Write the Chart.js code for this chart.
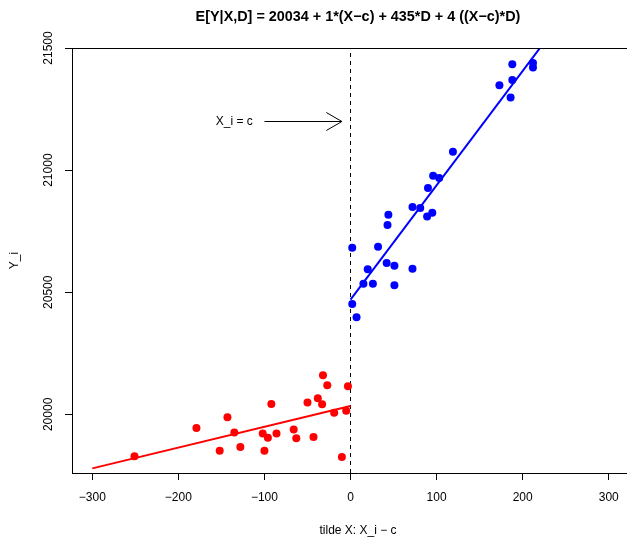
<!DOCTYPE html>
<html>
<head>
<meta charset="utf-8">
<script src="https://cdn.jsdelivr.net/npm/chart.js@4"></script>
<style>
  html, body { margin: 0; padding: 0; background: #fff; overflow: hidden; }
  #wrap { width: 700px; height: 538px; }
</style>
</head>
<body>
<div id="wrap"><canvas id="myChart" width="700" height="538"></canvas></div>
<script>
// left of the cutoff (D = 0)
const leftX = [-251, -179, -143, -152, -135, -128, -92, -102, -96, -100, -86, -66, -63, -50, -43, -38, -33, -32, -27, -19, -10, -5, -3];
const leftY = [19829, 19944, 19988, 19851, 19926, 19866, 20043, 19922, 19904, 19851, 19922, 19938, 19902, 20049, 19907, 20066, 20041, 20160, 20119, 20007, 19825, 20015, 20115];

// right of the cutoff (D = 1)
const rightX = [188, 212, 212, 188, 173, 186, 119, 96, 103, 90, 72, 81, 44, 89, 95, 43, 2, 32, 42, 51, 72, 20, 15, 26, 51, 2, 7];
const rightY = [21433, 21439, 21420, 21369, 21347, 21297, 21075, 20977, 20968, 20927, 20849, 20845, 20817, 20810, 20825, 20775, 20682, 20686, 20620, 20608, 20596, 20594, 20535, 20535, 20529, 20452, 20398];

// fitted lines
const leftFitX = [-300, 0];
const leftFitY = [19779, 20034];
const rightFitX = [0, 225];
const rightFitY = [20470, 21523];

const xTicks = [-300, -200, -100, 0, 100, 200, 300];
const yTicks = [20000, 20500, 21000, 21500];
const xMin = -323.6, xMax = 341;
const yMin = 19760, yMax = 21500;

const cutoff = 0;
const arrowFrom = [-100, 21200];
const arrowTo = [-10, 21200];
const arrowText = 'X_i = c';
const arrowTextX = -135;

const FONT = '"Liberation Sans", Arial, Helvetica, sans-serif';

const toPts = (xs, ys) => xs.map((x, i) => ({ x: x, y: ys[i] }));

// box around the plot region plus the annotation arrow
const rPlot = {
  id: 'rPlot',
  afterDraw(chart) {
    const { ctx, chartArea: a, scales: { x, y } } = chart;
    ctx.save();
    ctx.strokeStyle = '#000';
    ctx.lineWidth = 1;
    const t = Math.round(a.top) + 0.5;
    ctx.beginPath();
    ctx.moveTo(Math.round(a.left), t);
    ctx.lineTo(a.right, t);
    ctx.stroke();

    const x0 = x.getPixelForValue(arrowFrom[0]);
    const x1 = x.getPixelForValue(arrowTo[0]);
    const yy = Math.round(y.getPixelForValue(arrowFrom[1])) + 0.5;
    ctx.beginPath();
    ctx.moveTo(x0, yy);
    ctx.lineTo(x1, yy);
    const len = 18, ang = Math.PI / 6;
    ctx.moveTo(x1 - len * Math.cos(ang), yy - len * Math.sin(ang));
    ctx.lineTo(x1, yy);
    ctx.lineTo(x1 - len * Math.cos(ang), yy + len * Math.sin(ang));
    ctx.stroke();

    ctx.fillStyle = '#000';
    ctx.font = '12px ' + FONT;
    ctx.textAlign = 'center';
    ctx.textBaseline = 'middle';
    ctx.fillText(arrowText, x.getPixelForValue(arrowTextX), yy);
    ctx.restore();
  }
};

new Chart(document.getElementById('myChart').getContext('2d'), {
  type: 'scatter',
  data: {
    datasets: [
      {
        data: toPts(leftX, leftY),
        backgroundColor: '#ff0000',
        borderColor: '#ff0000',
        pointRadius: 4,
        pointBorderWidth: 0
      },
      {
        data: toPts(rightX, rightY),
        backgroundColor: '#0000ff',
        borderColor: '#0000ff',
        pointRadius: 4,
        pointBorderWidth: 0
      },
      {
        data: toPts(leftFitX, leftFitY),
        showLine: true,
        borderColor: '#ff0000',
        borderWidth: 2,
        pointRadius: 0
      },
      {
        data: toPts(rightFitX, rightFitY),
        showLine: true,
        borderColor: '#0000ff',
        borderWidth: 2,
        pointRadius: 0
      },
      {
        data: [{ x: cutoff, y: yMin }, { x: cutoff, y: yMax }],
        showLine: true,
        borderColor: '#000',
        borderWidth: 1,
        borderDash: [4, 4],
        pointRadius: 0
      }
    ]
  },
  plugins: [rPlot],
  options: {
    responsive: false,
    animation: false,
    events: [],
    layout: { padding: { left: 0, right: 56, top: 0, bottom: 0 } },
    plugins: {
      legend: { display: false },
      tooltip: { enabled: false },
      title: {
        display: true,
        fullSize: false,
        text: 'E[Y|X,D] = 20034 + 1*(X\u2212c) + 435*D + 4 ((X\u2212c)*D)',
        color: '#000',
        font: { family: FONT, size: 14.4, weight: 'bold' },
        padding: { top: 8, bottom: 22.72 }
      }
    },
    scales: {
      x: {
        type: 'linear',
        min: xMin,
        max: xMax,
        afterBuildTicks: s => { s.ticks = xTicks.map(v => ({ value: v })); },
        afterFit: s => { s.height = 65; },
        grid: { drawOnChartArea: false, drawTicks: true, tickLength: 7, color: '#000' },
        border: { display: true, color: '#000' },
        ticks: {
          color: '#000',
          padding: 10,
          maxRotation: 0,
          font: { family: FONT, size: 12 },
          callback: v => String(v).replace('-', '\u2212')
        },
        title: {
          display: true,
          text: 'tilde X: X_i \u2212 c',
          color: '#000',
          font: { family: FONT, size: 12 },
          padding: { top: 0, bottom: 0 }
        }
      },
      y: {
        type: 'linear',
        min: yMin,
        max: yMax,
        afterBuildTicks: s => { s.ticks = yTicks.map(v => ({ value: v })); },
        afterFit: s => { s.width = 72; },
        grid: { drawOnChartArea: false, drawTicks: true, tickLength: 7, color: '#000' },
        border: { display: true, color: '#000' },
        ticks: {
          color: '#000',
          padding: 0,
          minRotation: 90,
          maxRotation: 90,
          crossAlign: 'center',
          font: { family: FONT, size: 12 },
          callback: v => String(v)
        },
        title: {
          display: true,
          text: 'Y_i',
          color: '#000',
          font: { family: FONT, size: 12 },
          padding: { top: 7, bottom: 0 }
        }
      }
    }
  }
});
</script>
</body>
</html>
